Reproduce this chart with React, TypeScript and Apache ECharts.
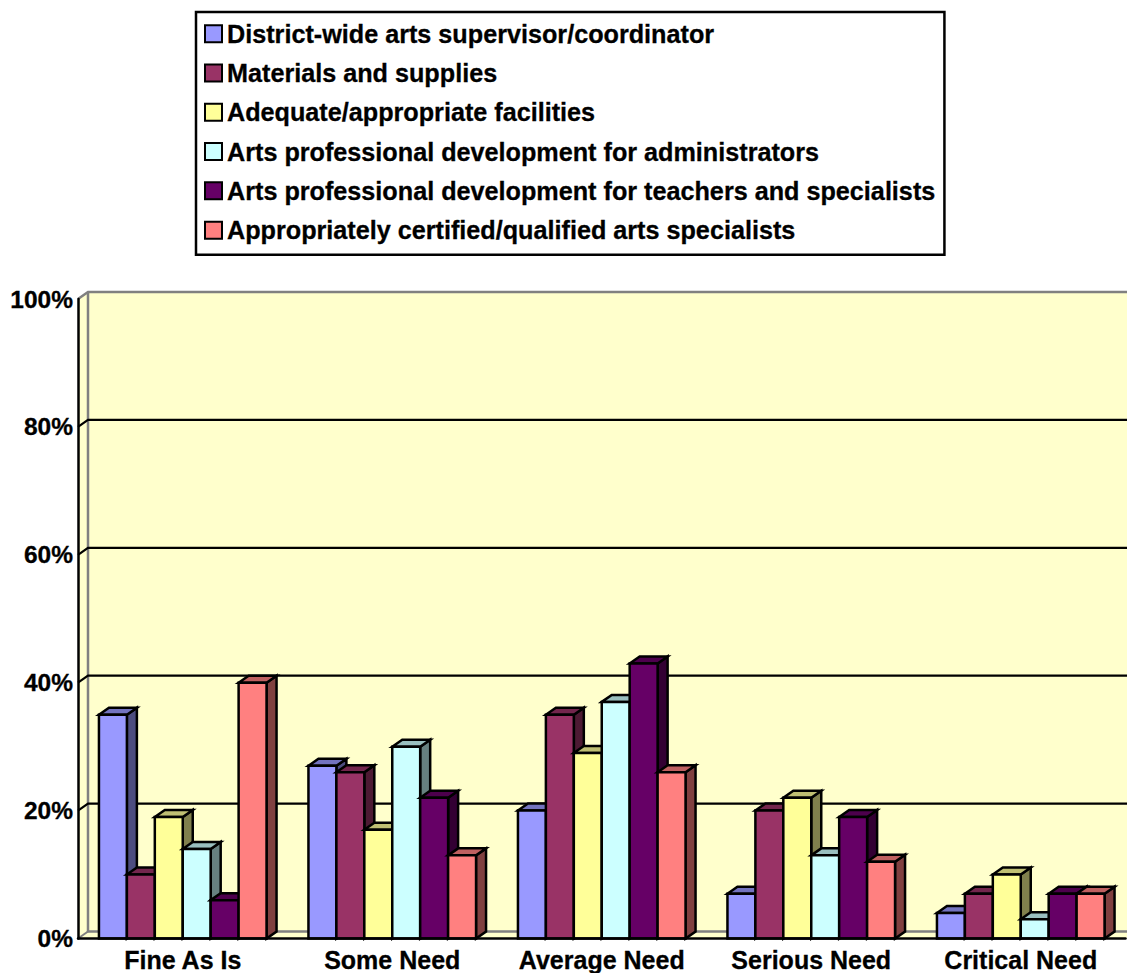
import React, { useEffect, useRef } from "react";
import * as echarts from "echarts";

const categories = ["Fine As Is", "Some Need", "Average Need", "Serious Need", "Critical Need"];
const seriesNames = [
  "District-wide arts supervisor/coordinator",
  "Materials and supplies",
  "Adequate/appropriate facilities",
  "Arts professional development for administrators",
  "Arts professional development for teachers and specialists",
  "Appropriately certified/qualified arts specialists",
];
const supervisor = [35, 27, 20, 7, 4];
const materials = [10, 26, 35, 20, 7];
const facilities = [19, 17, 29, 22, 10];
const adminPD = [14, 30, 37, 13, 3];
const teacherPD = [6, 22, 43, 19, 7];
const specialists = [40, 13, 26, 12, 7];
const seriesValues = [supervisor, materials, facilities, adminPD, teacherPD, specialists];
const colors = ["#9999FF", "#993366", "#FFFF99", "#CCFFFF", "#660066", "#FF8080"];
const gridTicks = [20, 40, 60, 80];

const DX = 10;
const DY = 7;
const FONT = "'Liberation Sans', Arial, sans-serif";

function shade(hex: string, f: number) {
  const n = parseInt(hex.slice(1), 16);
  const r = Math.round(((n >> 16) & 255) * f);
  const g = Math.round(((n >> 8) & 255) * f);
  const b = Math.round((n & 255) * f);
  return `rgb(${r},${g},${b})`;
}

export default function App() {
  const ref = useRef<HTMLDivElement>(null);
  useEffect(() => {
    document.body.style.margin = "0";
    const chart = echarts.init(ref.current!, null, { renderer: "svg" });

    const wallSeries: any = {
      type: "custom",
      silent: true,
      z: 1,
      data: [[0, 0]],
      encode: { x: 0, y: 1 },
      renderItem: (params: any) => {
        const { x, y, width, height } = params.coordSys;
        const r = x + width, b = y + height;
        const edge = { stroke: "#808080", lineWidth: 2.5, fill: "none" };
        return {
          type: "group",
          children: [
            { type: "polygon", shape: { points: [[x, y], [x + DX, y - DY], [r + DX, y - DY], [r + DX, b - DY], [r, b], [x, b]] }, style: { fill: "#FFFFCC" } },
            { type: "polyline", shape: { points: [[x, y], [x + DX, y - DY], [r + DX, y - DY]] }, style: edge },
            { type: "polyline", shape: { points: [[x + DX, y - DY], [x + DX, b - DY], [r + DX, b - DY]] }, style: edge },
            { type: "line", shape: { x1: x, y1: b, x2: x + DX, y2: b - DY }, style: { stroke: "#808080", lineWidth: 2 } },
          ],
        };
      },
    };

    const gridSeries: any = {
      type: "custom",
      silent: true,
      z: 1.5,
      data: gridTicks.map((v) => [0, v]),
      encode: { x: 0, y: 1 },
      renderItem: (params: any, api: any) => {
        const { x, width } = params.coordSys;
        const yy = api.coord([0, api.value(1)])[1];
        return {
          type: "polyline",
          shape: { points: [[x, yy], [x + DX, yy - DY], [x + width + DX, yy - DY]] },
          style: { stroke: "#000", lineWidth: 2.2, fill: "none" },
        };
      },
    };

    const barSeries: any[] = seriesNames.map((name, si) => ({
      name,
      type: "custom",
      z: 3 + si,
      itemStyle: { color: colors[si], borderColor: "#000", borderWidth: 2.5 },
      data: seriesValues[si].map((v, ci) => [ci, v]),
      encode: { x: 0, y: 1 },
      renderItem: (_p: any, api: any) => {
        const band = api.size([1, 0])[0];
        const w = (band * 0.8) / seriesNames.length;
        const [cx, top] = api.coord([api.value(0), api.value(1)]);
        const base = api.coord([api.value(0), 0])[1];
        const l = cx - (w * seriesNames.length) / 2 + si * w;
        const r = l + w;
        const line = { stroke: "#000", lineWidth: 2.5, lineJoin: "miter" };
        return {
          type: "group",
          children: [
            { type: "polygon", shape: { points: [[r, top], [r + DX, top - DY], [r + DX, base - DY], [r, base]] }, style: { ...line, fill: shade(colors[si], 0.5) } },
            { type: "polygon", shape: { points: [[l, top], [l + DX, top - DY], [r + DX, top - DY], [r, top]] }, style: { ...line, fill: shade(colors[si], 0.75) } },
            { type: "rect", shape: { x: l, y: top, width: w, height: base - top }, style: { ...line, fill: colors[si] } },
          ],
        };
      },
    }));

    const boldText = { color: "#000", fontWeight: "bold", fontFamily: FONT, textBorderColor: "#000", textBorderWidth: 0.3 };

    chart.setOption({
      animation: false,
      textStyle: { fontFamily: FONT },
      legend: {
        data: seriesNames.map((name) => ({ name, icon: "rect" })),
        orient: "vertical",
        left: 196,
        top: 12,
        padding: [9, 9, 12, 8],
        backgroundColor: "#fff",
        borderColor: "#000",
        borderWidth: 2.5,
        borderRadius: 0,
        itemWidth: 17,
        itemHeight: 17,
        itemGap: 14,
        selectedMode: false,
        align: "left",
        textStyle: { ...boldText, fontSize: 25.2 },
      },
      grid: { left: 78, top: 299, width: 1047.5, height: 639.5, containLabel: false },
      xAxis: {
        type: "category",
        data: categories,
        axisLine: { show: true, lineStyle: { color: "#000", width: 2.5 } },
        axisTick: { show: false },
        axisLabel: { ...boldText, fontSize: 25, margin: 9, interval: 0, hideOverlap: false },
        z: 10,
      },
      yAxis: {
        type: "value",
        min: 0,
        max: 100,
        interval: 20,
        splitLine: { show: false },
        axisLine: { show: true, lineStyle: { color: "#000", width: 2.5 } },
        axisTick: { show: false },
        axisLabel: { ...boldText, fontSize: 24.5, margin: 5, formatter: "{value}%" },
        z: 10,
      },
      series: [wallSeries, gridSeries, ...barSeries],
    });
    return () => chart.dispose();
  }, []);
  return <div ref={ref} style={{ position: "absolute", left: 0, top: 0, width: 1127, height: 973 }} />;
}
